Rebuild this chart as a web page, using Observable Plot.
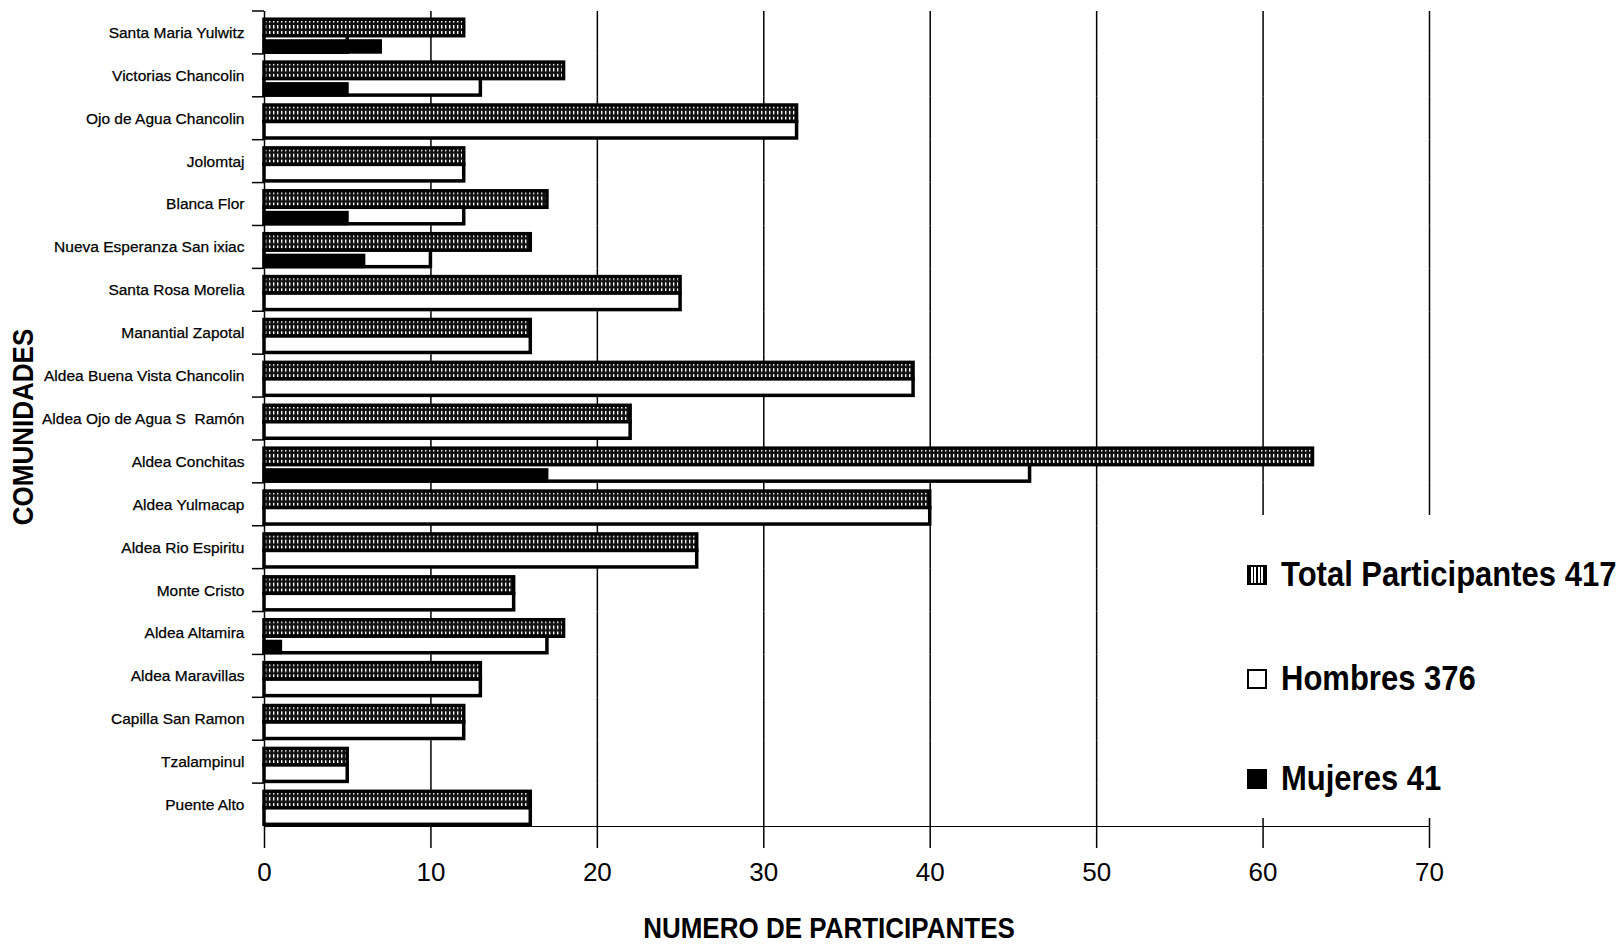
<!DOCTYPE html>
<html><head><meta charset="utf-8">
<script src="https://cdn.jsdelivr.net/npm/d3@7"></script>
<script src="https://cdn.jsdelivr.net/npm/@observablehq/plot@0.6"></script>
<style>
body{margin:0;background:#fff;font-family:"Liberation Sans",Arial,sans-serif;color:#000;}
#wrap{position:relative;width:1624px;height:945px;overflow:hidden;background:#fff;}
#wrap svg{position:absolute;left:0;top:0;}
.legend{position:absolute;left:1240px;top:515px;width:384px;height:303px;background:#fff;}
.lrow{position:absolute;left:7px;display:flex;align-items:center;height:40px;margin-top:-20px;font-weight:bold;font-size:31px;white-space:nowrap;}
.lrow span{display:inline-block;transform:scaleY(1.15);}
.sw{width:16px;height:16px;border:2.5px solid #000;margin-right:14px;box-sizing:content-box;}
.xtitle{position:absolute;left:829px;top:929px;transform:translate(-50%,-50%) scaleY(1.1);font-weight:bold;font-size:26px;white-space:nowrap;}
.ytitle{position:absolute;left:23px;top:427px;transform:translate(-50%,-50%) rotate(-90deg) scaleY(1.15);font-weight:bold;font-size:26px;white-space:nowrap;}
</style></head><body><div id="wrap"></div>
<script>
const communities = ["Santa Maria Yulwitz","Victorias Chancolin","Ojo de Agua Chancolin","Jolomtaj","Blanca Flor","Nueva Esperanza San ixiac","Santa Rosa Morelia","Manantial Zapotal","Aldea Buena Vista Chancolin","Aldea Ojo de Agua S  Ramón","Aldea Conchitas","Aldea Yulmacap","Aldea Rio Espiritu","Monte Cristo","Aldea Altamira","Aldea Maravillas","Capilla San Ramon","Tzalampinul","Puente Alto"];
const total   = [12,18,32,12,17,16,25,16,39,22,63,40,26,15,18,13,12,5,16];
const hombres = [5,13,32,12,12,10,25,16,39,22,46,40,26,15,17,13,12,5,16];
const mujeres = [7,5,0,0,5,6,0,0,0,0,17,0,0,0,1,0,0,0,0];
const seriesKeys = ["Total","Hombres","Mujeres"];
const legendLabels = ["Total Participantes 417","Hombres 376","Mujeres 41"];
const xTicks = [0,10,20,30,40,50,60,70];
const xTitle = "NUMERO DE PARTICIPANTES";
const yTitle = "COMUNIDADES";

const rows = communities.flatMap((c, i) => [
  {community: c, series: "Total", value: total[i]},
  {community: c, series: "Hombres", value: hombres[i]},
  {community: c, series: "Mujeres", value: mujeres[i]}
]);

// Women's bars overlap the lower part of the men's band (Excel-style overlap)
const lane = d => d.series === "Total" ? "Total" : "Hombres";

const chart = Plot.plot({
  width: 1624, height: 945,
  marginLeft: 264, marginRight: 195, marginTop: 11, marginBottom: 119,
  style: {fontFamily: "Liberation Sans, Arial, sans-serif", fontSize: "15.5px", color: "#000", background: "transparent", overflow: "visible"},
  facet: {data: rows, y: "community"},
  fy: {domain: communities, padding: 0, round: false, label: null, tickSize: 0, tickPadding: 20},
  y: {domain: ["Total", "Hombres"], axis: null, round: false, paddingInner: 0, paddingOuter: 0.3, align: 0.83},
  x: {domain: [0, 70], ticks: xTicks, tickSize: 22, tickPadding: 14, line: true, label: null},
  marks: [
    Plot.ruleX(xTicks, {stroke: "#000", strokeWidth: 1.5}),
    Plot.barX(rows, {filter: d => d.series === "Total" && d.value > 0, x: "value", y: lane, fill: "url(#hatch)", stroke: "#000", strokeWidth: 3.5}),
    Plot.barX(rows, {filter: d => d.series === "Hombres" && d.value > 0, x: "value", y: lane, fill: "#fff", stroke: "#000", strokeWidth: 3.5}),
    Plot.barX(rows, {filter: d => d.series === "Mujeres" && d.value > 0, x: "value", y: lane, insetTop: 5, fill: "#000", stroke: "#000", strokeWidth: 3})
  ]
});

const svg = d3.select(chart);
const defs = svg.insert("defs", ":first-child");
const pat = defs.append("pattern").attr("id", "hatch").attr("patternUnits", "userSpaceOnUse").attr("width", 4).attr("height", 6);
pat.append("rect").attr("width", 4).attr("height", 6).attr("fill", "#111");
pat.append("rect").attr("x", 1).attr("y", 1).attr("width", 1.4).attr("height", 3.5).attr("fill", "#fff");
svg.selectAll('[aria-label^="x-axis"] text').attr("font-size", 26);
svg.selectAll('[aria-label^="x-axis"] line, [aria-label^="x-axis"] path').attr("stroke-width", 1.5);
svg.selectAll('[aria-label^="fy-axis"] text').attr("stroke", "#000").attr("stroke-width", 0.25);

// category boundary ticks on the left axis, positioned through Plot's own scales
try {
  const fy = chart.scale("fy"), xs = chart.scale("x");
  const x0 = xs.apply(0);
  const g = svg.append("g").attr("stroke", "#000").attr("stroke-width", 1.5);
  communities.forEach(c => {
    const y = fy.apply(c);
    g.append("line").attr("x1", x0 - 12).attr("x2", x0).attr("y1", y).attr("y2", y);
  });
} catch (e) {}

const wrap = document.getElementById("wrap");
wrap.appendChild(chart);

const legend = document.createElement("div");
legend.className = "legend";
const swatchStyles = [
  "background:repeating-linear-gradient(90deg,#000 0 1.5px,#fff 1.5px 3.5px);",
  "background:#fff;",
  "background:#000;"
];
const legendCenters = [60, 164, 264];
legendLabels.forEach((lab, i) => {
  const r = document.createElement("div");
  r.className = "lrow";
  r.style.top = legendCenters[i] + "px";
  const sw = document.createElement("div");
  sw.className = "sw";
  sw.setAttribute("style", swatchStyles[i]);
  const t = document.createElement("span");
  t.textContent = lab;
  r.appendChild(sw); r.appendChild(t);
  legend.appendChild(r);
});
wrap.appendChild(legend);

const xt = document.createElement("div");
xt.className = "xtitle"; xt.textContent = xTitle; wrap.appendChild(xt);
const yt = document.createElement("div");
yt.className = "ytitle"; yt.textContent = yTitle; wrap.appendChild(yt);
</script>
</body></html>
